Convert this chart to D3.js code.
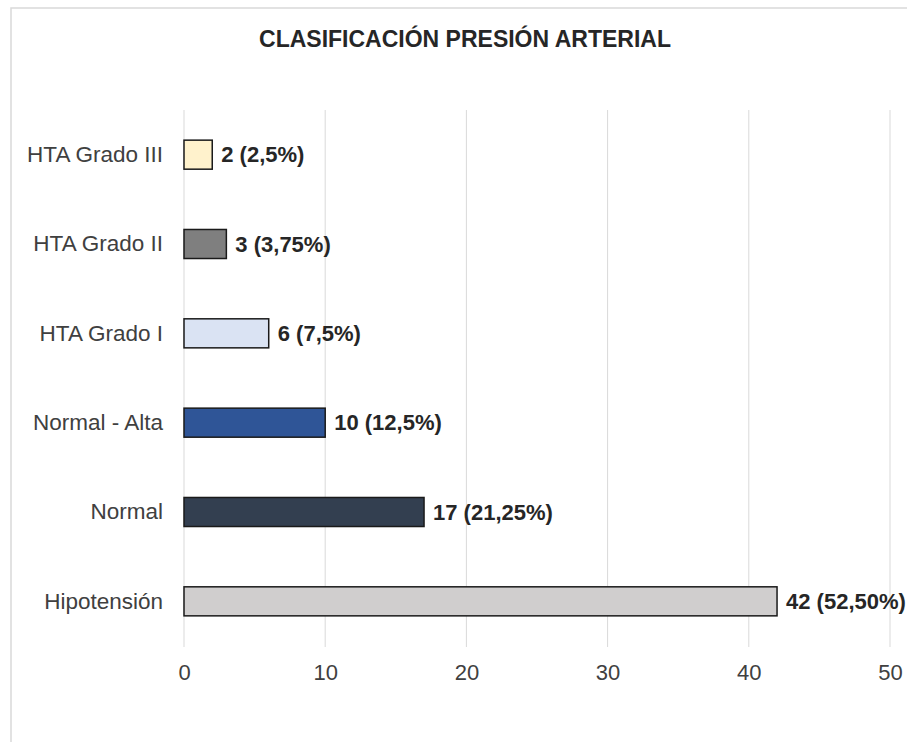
<!DOCTYPE html>
<html>
<head>
<meta charset="utf-8">
<title>Clasificación presión arterial</title>
<script src="https://cdn.jsdelivr.net/npm/d3@7"></script>
<style>
  body { margin: 0; background: #fff; }
  svg { display: block; font-family: Arial, "Liberation Sans", sans-serif; }
</style>
</head>
<body>
<svg id="diagram" width="907" height="742"></svg>
<script>
// datos (de arriba hacia abajo)
var categorias = ["HTA Grado III", "HTA Grado II", "HTA Grado I", "Normal - Alta", "Normal", "Hipotensión"];
var valores = [2, 3, 6, 10, 17, 42];
var etiquetas = ["2 (2,5%)", "3 (3,75%)", "6 (7,5%)", "10 (12,5%)", "17 (21,25%)", "42 (52,50%)"];
var colores = ["#fff2cc", "#7f7f7f", "#dae3f3", "#2f5597", "#333f50", "#d0cece"];
var ticks = [0, 10, 20, 30, 40, 50];

var svg = d3.select("#diagram");

// marco del grafico
svg.append("path")
    .attr("d", "M11,742 V8 H907")
    .attr("fill", "none")
    .attr("stroke", "#d9d9d9")
    .attr("stroke-width", 1.5);

// titulo
svg.append("text")
    .attr("x", 465)
    .attr("y", 47)
    .attr("text-anchor", "middle")
    .style("font-size", "23px")
    .style("font-weight", "bold")
    .attr("fill", "#262626")
    .text("CLASIFICACIÓN PRESIÓN ARTERIAL");

var x = d3.scaleLinear().domain([0, 50]).range([184, 890]);
var y = d3.scaleBand().domain(categorias).range([110, 646])
    .paddingInner(0.675).paddingOuter(0.3375);

// lineas de cuadricula
svg.append("g").selectAll("line")
    .data(ticks)
    .enter().append("line")
    .attr("x1", d => x(d)).attr("x2", d => x(d))
    .attr("y1", 110).attr("y2", 647)
    .attr("stroke", "#d9d9d9")
    .attr("stroke-width", 1);

// eje X
var ejeX = svg.append("g")
    .attr("transform", "translate(0,646)")
    .call(d3.axisBottom(x).tickValues(ticks).tickSize(0).tickPadding(18));
ejeX.select(".domain").remove();
ejeX.selectAll("text")
    .style("font-size", "22px")
    .style("font-family", "Arial, 'Liberation Sans', sans-serif")
    .attr("fill", "#404040");

// eje Y
var ejeY = svg.append("g")
    .attr("transform", "translate(184,0)")
    .call(d3.axisLeft(y).tickSize(0).tickPadding(21));
ejeY.select(".domain").remove();
ejeY.selectAll("text")
    .style("font-size", "22.5px")
    .style("font-family", "Arial, 'Liberation Sans', sans-serif")
    .attr("fill", "#404040");

// barras
svg.append("g").selectAll("rect")
    .data(categorias)
    .enter().append("rect")
    .attr("x", x(0))
    .attr("y", d => y(d))
    .attr("width", (d, i) => x(valores[i]) - x(0))
    .attr("height", y.bandwidth())
    .attr("fill", (d, i) => colores[i])
    .attr("stroke", "#1a1a1a")
    .attr("stroke-width", 1.5);

// etiquetas de valor
svg.append("g").selectAll("text")
    .data(categorias)
    .enter().append("text")
    .attr("x", (d, i) => x(valores[i]) + 9)
    .attr("y", d => y(d) + y.bandwidth() / 2)
    .attr("dy", "0.35em")
    .style("font-size", "22px")
    .style("font-weight", "bold")
    .attr("fill", "#262626")
    .text((d, i) => etiquetas[i]);
</script>
</body>
</html>
